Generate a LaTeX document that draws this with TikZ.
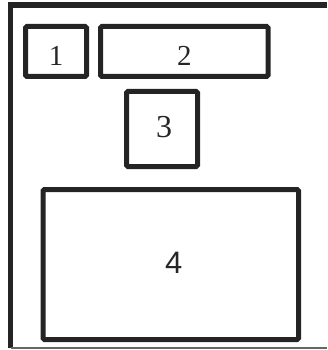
\documentclass[tikz,border=0pt]{standalone}
\usepackage{fontspec}
\setmainfont{Liberation Serif}
\newfontfamily\sansnum{Liberation Sans}
\usetikzlibrary{calc}

\begin{document}
\begin{tikzpicture}[x=1pt, y=-1pt,
    % Define the style for the boxes and the numbers
    box/.style={draw=black!86, line width=5pt, rounded corners=1.5pt, inner sep=0pt},
    num/.style={inner sep=0pt, text=black!85}
]

\useasboundingbox (0,0) rectangle (327,350);

% Define the corners of the frame
\coordinate (TL) at (10.7,5);
\coordinate (TR) at (327,5);
\coordinate (BL) at (10.7,348);
\coordinate (BR) at (327,348);

% Draw the frame
\draw[black!86, line width=5.5pt] (TR) -- (TL) -- (BL);
\draw[black!60, line width=1.5pt] (BL) -- (BR);

% Draw the boxes
\node[box, minimum width=61pt, minimum height=50pt] (box1) at (56,51.5) {};
\node[box, minimum width=167.5pt, minimum height=50pt] (box2) at (184.25,51.5) {};
\node[box, minimum width=71pt, minimum height=75pt] (box3) at (162,129) {};
\node[box, minimum width=255.5pt, minimum height=150pt] (box4) at (170.75,264.5) {};

% Add the numbers
\node[num, font=\fontsize{29}{29}\selectfont] (n1) at ($(box1.center)+(0,4)$) {1};
\node[num, font=\fontsize{29}{29}\selectfont] (n2) at ($(box2.center)+(0,4)$) {2};
\node[num, font=\fontsize{32}{32}\selectfont] (n3) at ($(box3.center)+(2,-2)$) {3};
\node[num, font=\sansnum\fontsize{31}{31}\selectfont] (n4) at ($(box4.center)+(3,-1.5)$) {4};

\end{tikzpicture}
\end{document}
